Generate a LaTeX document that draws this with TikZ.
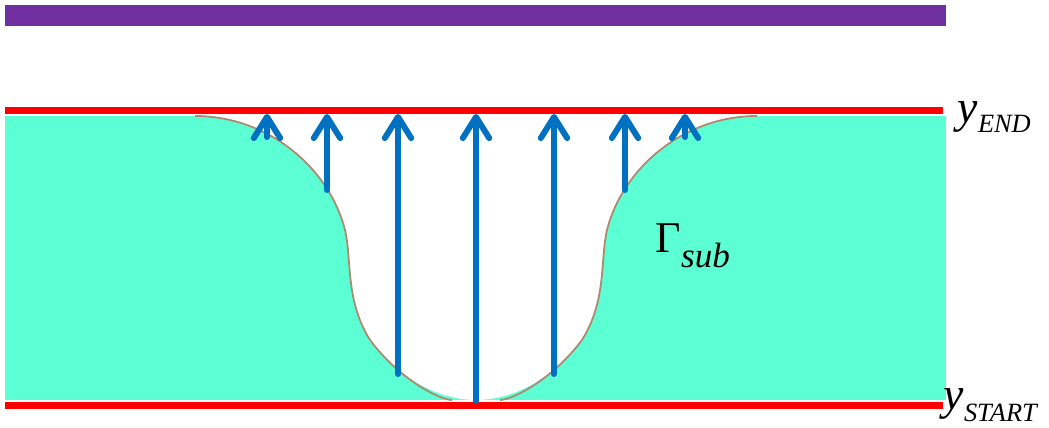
\documentclass[tikz,border=0pt]{standalone}
\usepackage{fontspec}
\setmainfont{Liberation Serif}
\usepackage{xcolor}
\usetikzlibrary{arrows.meta}
\definecolor{barpurple}{RGB}{112,48,160}
\definecolor{subteal}{RGB}{91,255,211}
\definecolor{fluxblue}{RGB}{0,112,192}
\definecolor{edgetan}{RGB}{176,136,112}

\begin{document}
\begin{tikzpicture}[x=0.01cm, y=-0.01cm,
          flux/.style={-{Straight Barb[length=6pt, width=7.5pt, round]},
                       line width=1.7pt, fluxblue, line cap=round},
          level/.style={red, line width=2pt},
          lbl/.style={anchor=base west, inner sep=0pt}]
          \useasboundingbox (0,0) rectangle (1049,428);
          \fill[barpurple] (5,5) rectangle (946,26);
          % the two levels
          \coordinate (endW) at (5,110.5);   \coordinate (endE) at (943,110.5);
          \coordinate (startW) at (5,405.5); \coordinate (startE) at (943,405.5);
          \draw[level] (endW)--(endE);
          \draw[level] (startW)--(startE);
          % substrate with the etched groove
          \fill[subteal] (5,116) rectangle (946,400);
          \fill[white] (195,116) .. controls (270,116) and (330,170) .. (345,230)
            .. controls (352,260) and (345,300) .. (370,340)
            .. controls (400,380) and (440,400) .. (476,400)
            .. controls (512,400) and (552,380) .. (582,340)
            .. controls (607,300) and (600,260) .. (607,230)
            .. controls (622,170) and (682,116) .. (757,116) -- cycle;
          \draw[edgetan, line width=0.5pt] (195,116) .. controls (270,116) and (330,170) .. (345,230)
            .. controls (352,260) and (345,300) .. (370,340)
            .. controls (400,380) and (440,400) .. (452,400);
          \draw[edgetan, line width=0.5pt] (500,400) .. controls (512,400) and (552,380) .. (582,340)
            .. controls (607,300) and (600,260) .. (607,230)
            .. controls (622,170) and (682,116) .. (757,116);
          % arrows
          \foreach \x/\y [count=\i] in {267/137, 327/190, 398/374, 476/401, 554/374, 625/190, 685/137}{
            \coordinate (s\i) at (\x,\y);
            \coordinate (e\i) at (\x,114);
            \draw[flux] (s\i)--(e\i);
          }
          % labels
          \node[lbl] (yend) at (957,123) {\fontsize{13}{15}\selectfont\itshape y\raisebox{-2.6pt}{\fontsize{7.5}{9}\selectfont END}};
          \node[lbl] (ystart) at (943,410) {\fontsize{13}{15}\selectfont\itshape y\raisebox{-3.3pt}{\fontsize{7.5}{9}\selectfont START}};
          \node[lbl] (gsub) at (655,253) {\fontsize{12.5}{14}\selectfont Γ\raisebox{-4.2pt}{\fontsize{10}{12}\selectfont\itshape sub}};
        \end{tikzpicture}
\end{document}
